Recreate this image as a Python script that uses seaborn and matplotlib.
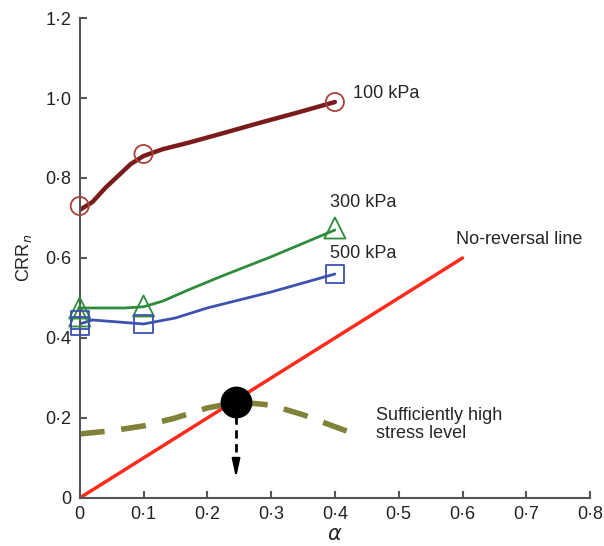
import matplotlib
matplotlib.use("Agg")
import matplotlib.pyplot as plt
import seaborn as sns
import pandas as pd
from matplotlib.ticker import FuncFormatter

# ---- data ----
alpha_100_line = [0.0, 0.02, 0.04, 0.06, 0.08, 0.1, 0.13, 0.17, 0.22, 0.28, 0.34, 0.4]
crr_100_line = [0.72, 0.74, 0.775, 0.805, 0.835, 0.855, 0.872, 0.888, 0.91, 0.937, 0.963, 0.99]
alpha_100_pts = [0.0, 0.1, 0.4]
crr_100_pts = [0.73, 0.86, 0.99]

alpha_300_line = [0.0, 0.07, 0.1, 0.13, 0.17, 0.22, 0.3, 0.4]
crr_300_line = [0.475, 0.475, 0.478, 0.492, 0.52, 0.553, 0.603, 0.67]
alpha_300_pts = [0.0, 0.0, 0.1, 0.4]
crr_300_pts = [0.475, 0.455, 0.48, 0.675]

alpha_500_line = [0.0, 0.02, 0.06, 0.1, 0.15, 0.2, 0.3, 0.4]
crr_500_line = [0.435, 0.445, 0.44, 0.435, 0.45, 0.475, 0.515, 0.56]
alpha_500_pts = [0.0, 0.0, 0.1, 0.4]
crr_500_pts = [0.445, 0.43, 0.435, 0.56]

alpha_noreversal = [0.0, 0.6]
crr_noreversal = [0.0, 0.6]

alpha_stress = [0.0, 0.05, 0.1, 0.15, 0.2, 0.25, 0.3, 0.35, 0.4, 0.44]
crr_stress = [0.16, 0.168, 0.18, 0.2, 0.225, 0.24, 0.232, 0.208, 0.178, 0.155]

point_alpha = [0.245]
point_crr = [0.24]
arrow_end_crr = 0.05

xticks = [0, 0.1, 0.2, 0.3, 0.4, 0.5, 0.6, 0.7, 0.8]
yticks = [0, 0.2, 0.4, 0.6, 0.8, 1.0, 1.2]

sns.set_style("white")
plt.rcParams['font.family'] = ['Liberation Sans', 'DejaVu Sans']

fig = plt.figure(figsize=(6.04, 5.46), dpi=100)
ax = fig.add_axes([0.132, 0.088, 0.845, 0.879])

c100_line = "#7b1c1c"
c100_mk = "#a8423a"
c300 = "#2e8b3a"
c500 = "#3d52b0"

def line(x, y, **kw):
    sns.lineplot(x=x, y=y, ax=ax, sort=False, estimator=None, **kw)

line(alpha_100_line, crr_100_line, color=c100_line, linewidth=3.2)
line(alpha_300_line, crr_300_line, color=c300, linewidth=2)
line(alpha_500_line, crr_500_line, color=c500, linewidth=2)
line(alpha_noreversal, crr_noreversal, color="#ff2b1c", linewidth=2.5)
sns.lineplot(x=alpha_stress, y=crr_stress, ax=ax, color="#80823a", linewidth=4,
             linestyle=(0, (4.5, 3)), sort=False, estimator=None)

ax.scatter(alpha_100_pts, crr_100_pts, s=170, facecolors="none",
           edgecolors=c100_mk, linewidths=1.3, zorder=4, clip_on=False)
ax.scatter(alpha_300_pts, crr_300_pts, s=230, marker="^", facecolors="none",
           edgecolors=c300, linewidths=1.3, zorder=4, clip_on=False)
ax.scatter(alpha_500_pts, crr_500_pts, s=170, marker="s", facecolors="none",
           edgecolors=c500, linewidths=1.3, zorder=4, clip_on=False)

ax.scatter(point_alpha, point_crr, s=480, color="black", zorder=5)
# dashed shaft + solid head
sns.lineplot(x=[point_alpha[0], point_alpha[0]], y=[point_crr[0], arrow_end_crr + 0.025],
             ax=ax, color="black", linewidth=2, linestyle=(0, (3, 2)),
             sort=False, estimator=None)
ax.annotate("", xy=(point_alpha[0], arrow_end_crr),
            xytext=(point_alpha[0], arrow_end_crr + 0.035),
            arrowprops=dict(arrowstyle="-|>,head_length=1.0,head_width=0.22", color="black",
                            lw=1.5, mutation_scale=11, shrinkA=0, shrinkB=0), zorder=4)

fs = 13
ax.text(0.428, 1.0, "100 kPa", fontsize=fs)
ax.text(0.393, 0.728, "300 kPa", fontsize=fs)
ax.text(0.393, 0.6, "500 kPa", fontsize=fs)
ax.text(0.59, 0.635, "No-reversal line", fontsize=fs)
ax.text(0.465, 0.15, "Sufficiently high\nstress level", fontsize=fs, linespacing=1.1)

ax.set_xlim(0, 0.8)
ax.set_ylim(0, 1.2)
ax.set_xticks(xticks)
ax.set_yticks(yticks)
fmt = FuncFormatter(lambda v, p: "0" if abs(v) < 1e-9 else f"{v:.1f}".replace(".", "·"))
ax.xaxis.set_major_formatter(fmt)
ax.yaxis.set_major_formatter(fmt)
ax.tick_params(direction="in", length=5, width=1.5, color="#555555", labelsize=13,
               pad=6, bottom=True, left=True, labelcolor="#222222")
for s in ["top", "right"]:
    ax.spines[s].set_visible(False)
for s in ["left", "bottom"]:
    ax.spines[s].set_color("#555555")
    ax.spines[s].set_linewidth(1.5)

ax.set_xlabel(r"$\alpha$", fontsize=15, labelpad=1)
ax.set_ylabel(r"CRR$_{n}$", fontsize=13, labelpad=8)

fig.savefig("out.png", dpi=100)
